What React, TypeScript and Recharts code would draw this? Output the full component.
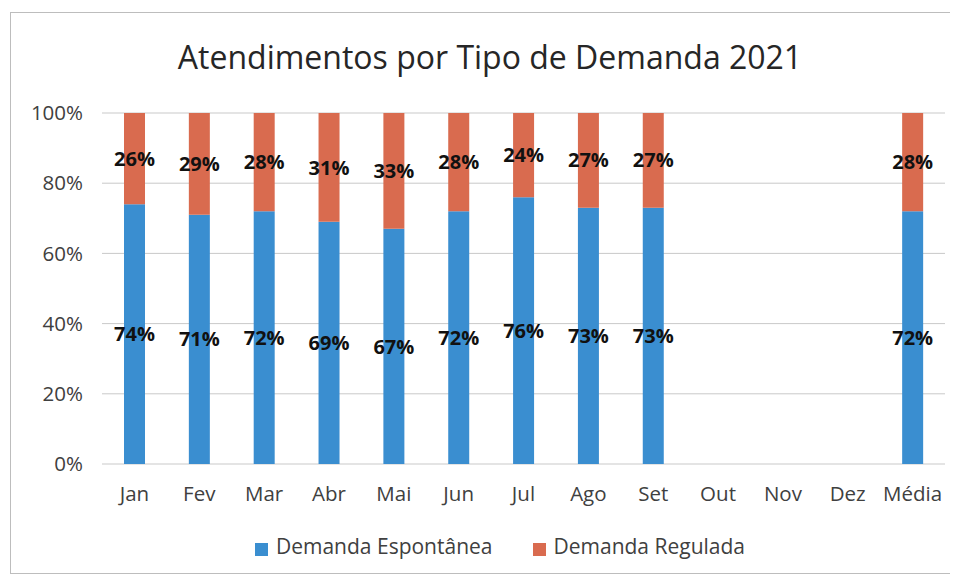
import React from 'react'
import {
  BarChart,
  Bar,
  XAxis,
  YAxis,
  CartesianGrid,
  Legend,
  LabelList
} from 'recharts'

// Dados
const meses = ['Jan', 'Fev', 'Mar', 'Abr', 'Mai', 'Jun', 'Jul', 'Ago', 'Set', 'Out', 'Nov', 'Dez', 'Média']
const espontanea = [74, 71, 72, 69, 67, 72, 76, 73, 73, null, null, null, 72]
const regulada = [26, 29, 28, 31, 33, 28, 24, 27, 27, null, null, null, 28]
const yTicks = [0, 20, 40, 60, 80, 100]

const COLORS = {
  espontanea: '#3a8ed0',
  regulada: '#d96b4f',
  grid: '#c9c9c9',
  text: '#404040'
}

const FONT = '"Open Sans", "Noto Sans", sans-serif'

const data = meses.map((mes, i) => ({
  mes,
  espontanea: espontanea[i],
  regulada: regulada[i]
}))

const pct = (v: any) => (v == null ? '' : `${v}%`)

export default function App() {
  return (
    <div
      style={{
        position: 'relative',
        width: 944,
        height: 562,
        marginLeft: 2,
        marginTop: 4,
        border: '1px solid #bdbdbd',
        boxSizing: 'border-box',
        fontFamily: FONT,
        background: '#fff'
      }}
    >
      <div
        style={{
          position: 'absolute',
          top: 23,
          left: 16,
          width: 926,
          textAlign: 'center',
          fontSize: 32,
          color: '#262626',
          lineHeight: '42px'
        }}
      >
        Atendimentos por Tipo de Demanda 2021
      </div>
      <BarChart
        width={942}
        height={560}
        data={data}
        margin={{ top: 100, right: 8, left: 0, bottom: 51 }}
        style={{ fontFamily: FONT }}
      >
        <CartesianGrid vertical={false} stroke={COLORS.grid} />
        <XAxis
          dataKey="mes"
          axisLine={false}
          tickLine={false}
          tickMargin={16}
          tick={{ fill: COLORS.text, fontSize: 20.5 }}
          interval={0}
        />
        <YAxis
          width={91}
          domain={[0, 100]}
          ticks={yTicks}
          tickFormatter={(v) => `${v}%`}
          axisLine={false}
          tickLine={false}
          tickMargin={13}
          tick={{ fill: COLORS.text, fontSize: 20.5 }}
        />
        <Legend
          verticalAlign="bottom"
          iconType="square"
          iconSize={13}
          wrapperStyle={{ top: 519, bottom: 'auto', left: 42 }}
          formatter={(value) => (
            <span style={{ color: COLORS.text, fontSize: 21, marginLeft: 4, marginRight: 30 }}>{value}</span>
          )}
        />
        <Bar
          dataKey="espontanea"
          name="Demanda Espontânea"
          stackId="a"
          fill={COLORS.espontanea}
          barSize={21}
          isAnimationActive={false}
        >
          <LabelList
            dataKey="espontanea"
            position="center"
            formatter={pct}
            style={{ fill: '#111', fontSize: 20, fontWeight: 700 }}
          />
        </Bar>
        <Bar
          dataKey="regulada"
          name="Demanda Regulada"
          stackId="a"
          fill={COLORS.regulada}
          barSize={21}
          isAnimationActive={false}
        >
          <LabelList
            dataKey="regulada"
            position="center"
            formatter={pct}
            style={{ fill: '#111', fontSize: 20, fontWeight: 700 }}
          />
        </Bar>
      </BarChart>
    </div>
  )
}
